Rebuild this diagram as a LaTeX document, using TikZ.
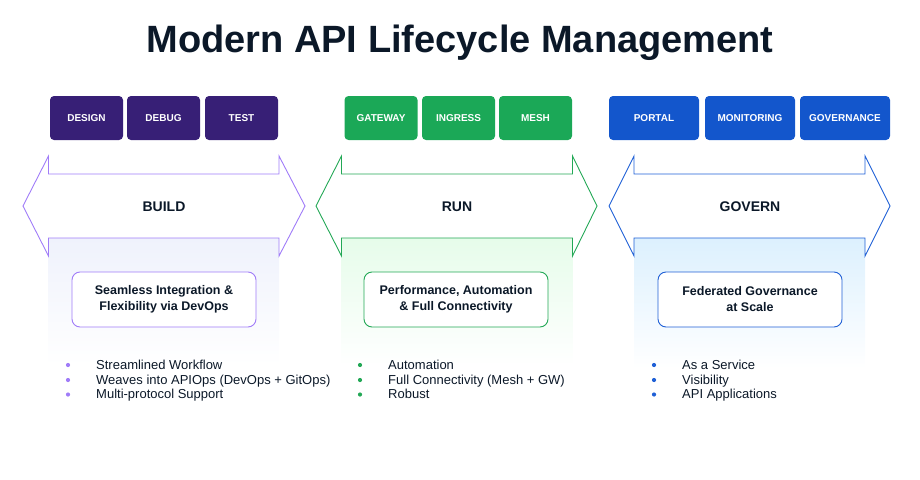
\documentclass[tikz,border=0pt]{standalone}
\usepackage{fontspec}
\setmainfont{Liberation Sans}
\definecolor{ink}{HTML}{0B1828}
\definecolor{buildtab}{HTML}{371F76}
\definecolor{buildline}{HTML}{A07CF8}
\definecolor{buildfade}{HTML}{EFF2FC}
\definecolor{runtab}{HTML}{1BA857}
\definecolor{runline}{HTML}{23A856}
\definecolor{runfade}{HTML}{E6FCEA}
\definecolor{govtab}{HTML}{1356CC}
\definecolor{govline}{HTML}{2060D6}
\definecolor{govfade}{HTML}{DCF0FE}
\begin{document}
\begin{tikzpicture}[x=1pt,y=-1pt]
  \tikzset{tab/.style={fill=#1,rounded corners=4pt,text=white,inner sep=0pt,minimum height=44pt,font=\fontsize{10}{12}\selectfont\bfseries},
    stage/.style={text=ink,font=\fontsize{14}{16}\selectfont\bfseries},
    valuebox/.style={draw=#1,fill=white,line width=0.9pt,rounded corners=8pt,minimum width=184pt,minimum height=55pt,align=center,text=ink,font=\fontsize{12.5}{16}\selectfont\bfseries},
    item/.style={anchor=base west,inner sep=0pt,text=ink,font=\fontsize{13}{15}\selectfont},
    dot/.style={circle,fill=#1,inner sep=0pt,minimum size=4.2pt}}
  \useasboundingbox (0,0) rectangle (920,479);
  \node[text=ink,font=\fontsize{38}{40}\selectfont\bfseries,anchor=base] (title) at (460,52) {Modern API Lifecycle Management};

  % build
  \shade[top color=buildfade,bottom color=white] (48.5,238) rectangle (279,365);
  \draw[buildline,line width=0.9pt] (23,206) -- (48.5,156) -- (48.5,174) -- (279,174) -- (279,156) -- (305,206) -- (279,256) -- (279,238) -- (48.5,238) -- (48.5,256) -- cycle;
  \node[tab=buildtab,minimum width=73pt] (design) at (86.5,118) {DESIGN};
  \node[tab=buildtab,minimum width=73pt] (debug) at (163.5,118) {DEBUG};
  \node[tab=buildtab,minimum width=73pt] (test) at (241.5,118) {TEST};
  \node[stage] (build) at (164,207) {BUILD};
  \node[valuebox=buildline] (buildbox) at (164,299.5) {Seamless Integration \&\\Flexibility via DevOps};
  \node[dot=buildline] (b1) at (68,365) {};
  \node[dot=buildline] (b2) at (68,380) {};
  \node[dot=buildline] (b3) at (68,394.5) {};
  \node[item] at (96,369.7) {Streamlined Workflow};
  \node[item] at (96,384.2) {Weaves into APIOps (DevOps + GitOps)};
  \node[item] at (96,398.7) {Multi-protocol Support};

  % run
  \shade[top color=runfade,bottom color=white] (341.5,238) rectangle (572.5,365);
  \draw[runline,line width=0.9pt] (316,206) -- (341.5,156) -- (341.5,174) -- (572.5,174) -- (572.5,156) -- (597,206) -- (572.5,256) -- (572.5,238) -- (341.5,238) -- (341.5,256) -- cycle;
  \node[tab=runtab,minimum width=73pt] (gateway) at (381,118) {GATEWAY};
  \node[tab=runtab,minimum width=73pt] (ingress) at (458.5,118) {INGRESS};
  \node[tab=runtab,minimum width=73pt] (mesh) at (535.5,118) {MESH};
  \node[stage] (run) at (457,207) {RUN};
  \node[valuebox=runline] (runbox) at (456,299.5) {Performance, Automation\\\& Full Connectivity};
  \node[dot=runline] (r1) at (360,365) {};
  \node[dot=runline] (r2) at (360,380) {};
  \node[dot=runline] (r3) at (360,394.5) {};
  \node[item] at (388,369.7) {Automation};
  \node[item] at (388,384.2) {Full Connectivity (Mesh + GW)};
  \node[item] at (388,398.7) {Robust};

  % govern
  \shade[top color=govfade,bottom color=white] (634,238) rectangle (865,368);
  \draw[govline,line width=0.9pt] (609,206) -- (634,156) -- (634,174) -- (865,174) -- (865,156) -- (890,206) -- (865,256) -- (865,238) -- (634,238) -- (634,256) -- cycle;
  \node[tab=govtab,minimum width=90pt] (portal) at (654,118) {PORTAL};
  \node[tab=govtab,minimum width=90pt] (monitoring) at (750,118) {MONITORING};
  \node[tab=govtab,minimum width=90pt] (governance) at (845,118) {GOVERNANCE};
  \node[stage] (govern) at (750,207) {GOVERN};
  \node[valuebox=govline] (govbox) at (750,299.5) {Federated Governance\\at Scale};
  \node[dot=govline] (g1) at (654,365) {};
  \node[dot=govline] (g2) at (654,380) {};
  \node[dot=govline] (g3) at (654,394.5) {};
  \node[item] at (682,369.7) {As a Service};
  \node[item] at (682,384.2) {Visibility};
  \node[item] at (682,398.7) {API Applications};
\end{tikzpicture}
\end{document}
